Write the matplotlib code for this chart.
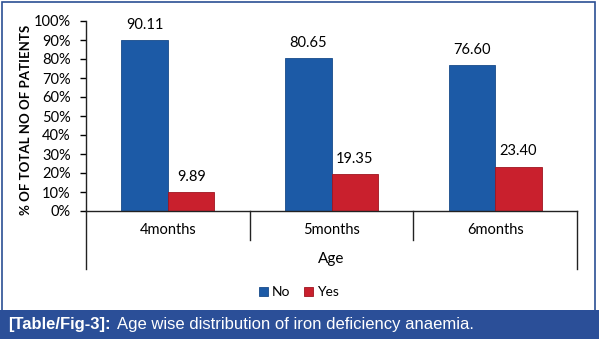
import matplotlib
matplotlib.use("Agg")
import matplotlib.pyplot as plt
from matplotlib.patches import Rectangle
import numpy as np

categories = ["4months", "5months", "6months"]
no_values = [90.11, 80.65, 76.60]
yes_values = [9.89, 19.35, 23.40]
series_names = ["No", "Yes"]
yticks = list(range(0, 101, 10))

W, H = 599, 343
fig = plt.figure(figsize=(W / 100, H / 100), dpi=100)
plt.rcParams['font.family'] = ['Lato', 'DejaVu Sans']

def fx(px):
    return px / W

def fy(py):
    return 1 - py / H

# outer border
fig.patches.append(Rectangle((fx(2), fy(311)), fx(593), fy(2) - fy(311),
                             transform=fig.transFigure, fill=False,
                             edgecolor='#2b4f94', linewidth=1.2, zorder=0))
# caption band
fig.patches.append(Rectangle((fx(0), fy(339)), 1, fy(310) - fy(339),
                             transform=fig.transFigure, facecolor='#2b4f98',
                             edgecolor='none', zorder=0))
t1 = fig.text(fx(8), fy(325), "[Table/Fig-3]:", color='white', fontsize=12,
              fontweight='bold', family='Liberation Sans', va='center', ha='left')
t2 = fig.text(fx(104), fy(325), "Age wise distribution of iron deficiency anaemia.",
              color='white', fontsize=12, family='Liberation Sans', va='center', ha='left')

ax = fig.add_axes([fx(86), fy(211), fx(577) - fx(86), fy(21) - fy(211)])
x = np.arange(len(categories))
bw = 0.285
blue = '#1c5aa6'
red = '#c9202d'
b1 = ax.bar(x - bw / 2, no_values, bw, color=blue, edgecolor='#174a8a', linewidth=0.6, label=series_names[0])
b2 = ax.bar(x + bw / 2, yes_values, bw, color=red, edgecolor='#a0141f', linewidth=0.6, label=series_names[1])

for rect, v in zip(b1, no_values):
    ax.text(rect.get_x() + rect.get_width() / 2, v + 8.0, f"{v:.2f}", ha='center', va='center', fontsize=10.5)
for rect, v in zip(b2, yes_values):
    ax.text(rect.get_x() + rect.get_width() / 2, v + 8.0, f"{v:.2f}", ha='center', va='center', fontsize=10.5)

ax.set_xlim(-0.5, len(categories) - 0.5)
ax.set_ylim(0, 100)
ax.set_yticks(yticks)
ax.set_yticklabels([f"{t}%" for t in yticks], fontsize=10.5)
ax.set_xticks([])
ax.tick_params(axis='y', length=4, width=1, pad=7, direction='out')
for s in ['top', 'right']:
    ax.spines[s].set_visible(False)
for s in ['left', 'bottom']:
    ax.spines[s].set_color('#222222')
    ax.spines[s].set_linewidth(1)

tr = ax.get_xaxis_transform()
for i, c in enumerate(categories):
    ax.text(i, -0.1, c, transform=tr, ha='center', va='center', fontsize=10.5)
for d in np.arange(0.5, len(categories) - 0.5, 1):
    ax.plot([d, d], [0, -0.15], transform=tr, color='#222222', lw=1, clip_on=False)
for d in [-0.5, len(categories) - 0.5]:
    ax.plot([d, d], [0, -0.305], transform=tr, color='#222222', lw=1, clip_on=False)
ax.text(0.5, -0.255, "Age", transform=ax.transAxes, ha='center', va='center', fontsize=11)

ax.set_ylabel("% OF TOTAL NO OF PATIENTS", fontsize=9.5, fontweight='bold')
ax.yaxis.set_label_coords(-0.11, 0.48)

leg = fig.legend(handles=[b1, b2], labels=series_names, loc='center',
                 bbox_to_anchor=(fx(299), fy(292)), ncol=2, frameon=False,
                 fontsize=10, handlelength=0.6, handleheight=0.6,
                 handletextpad=0.3, columnspacing=1.0)

# place caption body right after bold prefix
fig.canvas.draw()
r = fig.canvas.get_renderer()
bb = t1.get_window_extent(renderer=r)
t2.set_x((bb.x1 + 6) / W)

fig.savefig("out.png", dpi=100)
